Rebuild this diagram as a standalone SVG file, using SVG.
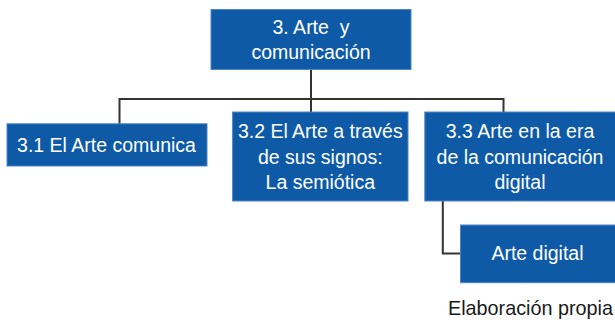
<svg xmlns="http://www.w3.org/2000/svg" width="615" height="320" viewBox="0 0 615 320">
<style>
.box{fill:#0e5aa7;stroke:#4d86c9;stroke-width:1}
.lbl{font-family:"Liberation Sans",Arial,sans-serif;font-size:19.5px;fill:#ffffff;text-anchor:middle}
.conn{fill:none;stroke:#333333;stroke-width:2}
.note{font-family:"Liberation Sans",Arial,sans-serif;font-size:19.8px;fill:#1a1a1a;text-anchor:end}
</style>
<rect width="615" height="320" fill="#ffffff"/>
<g id="connectors">
<path class="conn" d="M311,69.5 V99 M119.5,124 V99 H503.5 V112 M311,99 V112"/>
<path class="conn" d="M442.8,201 V253.5 H460.5"/>
</g>
<g id="n3">
<rect class="box" x="211" y="9.5" width="200" height="60"/>
<text class="lbl" x="311" y="34.3" xml:space="preserve">3. Arte  y</text>
<text class="lbl" x="311" y="59.3">comunicación</text>
</g>
<g id="n31">
<rect class="box" x="7" y="123.8" width="200" height="42.2"/>
<text class="lbl" x="106.5" y="151.7">3.1 El Arte comunica</text>
</g>
<g id="n32">
<rect class="box" x="232.6" y="112" width="175.4" height="89"/>
<text class="lbl" x="320.3" y="137.7">3.2 El Arte a través</text>
<text class="lbl" x="320.3" y="164">de sus signos:</text>
<text class="lbl" x="320.3" y="189.3">La semiótica</text>
</g>
<g id="n33">
<rect class="box" x="424.8" y="112" width="191" height="89"/>
<text class="lbl" x="520" y="137.7">3.3 Arte en la era</text>
<text class="lbl" x="520" y="164">de la comunicación</text>
<text class="lbl" x="520" y="189.3">digital</text>
</g>
<g id="n331">
<rect class="box" x="460.5" y="225" width="155" height="57.7"/>
<text class="lbl" x="537.5" y="260">Arte digital</text>
</g>
<text class="note" x="613" y="314.5">Elaboración propia</text>
</svg>
